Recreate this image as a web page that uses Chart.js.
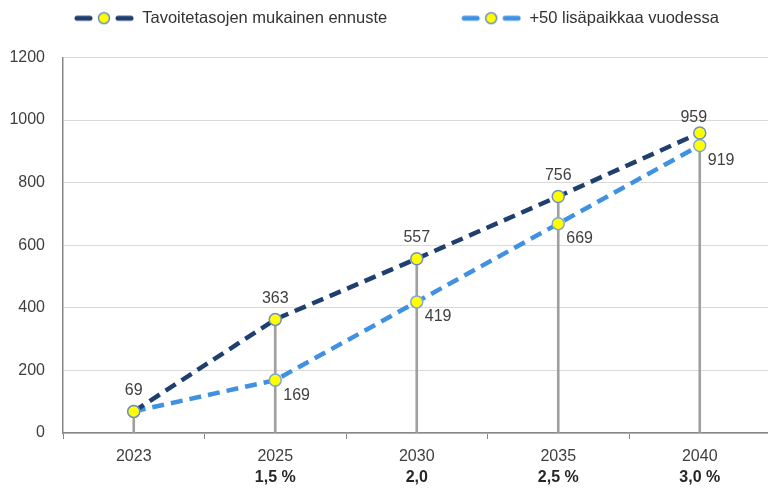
<!DOCTYPE html>
<html>
<head>
<meta charset="utf-8">
<script src="https://cdn.jsdelivr.net/npm/chart.js@4.4.0/dist/chart.umd.min.js"></script>
<style>
  html, body { margin: 0; padding: 0; background: #fff; overflow: hidden; }
  #wrap { width: 778px; height: 488px; }
</style>
</head>
<body>
<div id="wrap"><canvas id="line_chart" width="778" height="488"></canvas></div>
<script>
var years = ["2023", "2025", "2030", "2035", "2040"];
var rates = ["", "1,5 %", "2,0", "2,5 %", "3,0 %"];
var targetSeries = [69, 363, 557, 756, 959];
var extraSeries = [69, 169, 419, 669, 919];
var yTicks = [0, 200, 400, 600, 800, 1000, 1200];

var navy = '#1f3f6e';
var lightBlue = '#4191e3';
var fontFamily = "'Liberation Sans', Arial, sans-serif";

// legend symbol: dash - yellow dot - dash, drawn at the right end of a wider box
function legendIcon(color) {
    var c = document.createElement('canvas');
    c.width = 124; c.height = 16;
    var ctx = c.getContext('2d');
    var o = 64;
    ctx.strokeStyle = color;
    ctx.lineWidth = 5;
    ctx.lineCap = 'round';
    ctx.beginPath(); ctx.moveTo(o + 3, 8); ctx.lineTo(o + 16, 8); ctx.stroke();
    ctx.beginPath(); ctx.moveTo(o + 44, 8); ctx.lineTo(o + 57, 8); ctx.stroke();
    ctx.beginPath(); ctx.arc(o + 30, 8, 5.5, 0, Math.PI * 2);
    ctx.fillStyle = '#ffff00'; ctx.fill();
    ctx.lineWidth = 1.5; ctx.strokeStyle = '#6f8fc0'; ctx.stroke();
    return c;
}

var dropLines = targetSeries.map(function (v, i) { return Math.max(v, extraSeries[i]); });

var legendGap = {
    id: 'legendGap',
    beforeInit: function (chart) {
        var fit = chart.legend.fit;
        chart.legend.fit = function () {
            fit.bind(chart.legend)();
            this.height += 21;
        };
    }
};

var valueLabels = {
    id: 'valueLabels',
    afterDatasetsDraw: function (chart) {
        var ctx = chart.ctx;
        ctx.save();
        ctx.font = '16px ' + fontFamily;
        ctx.fillStyle = '#404040';
        ctx.textBaseline = 'middle';
        var m0 = chart.getDatasetMeta(0);
        var last = m0.data.length - 1;
        m0.data.forEach(function (pt, i) {
            ctx.textAlign = 'center';
            var dx = (i === last) ? -6 : 0;
            var dy = (i === last) ? -15 : -21;
            ctx.fillText(targetSeries[i], pt.x + dx, pt.y + dy);
        });
        var m1 = chart.getDatasetMeta(1);
        m1.data.forEach(function (pt, i) {
            if (extraSeries[i] === targetSeries[i]) return;
            ctx.textAlign = 'left';
            ctx.fillText(extraSeries[i], pt.x + 8, pt.y + 15);
        });
        ctx.restore();
    }
};

new Chart(document.getElementById("line_chart").getContext("2d"), {
    type: 'bar',
    data: {
        labels: years,
        datasets: [{
            type: 'line',
            label: 'Tavoitetasojen mukainen ennuste',
            data: targetSeries,
            borderColor: navy,
            borderWidth: 4.5,
            borderDash: [12, 7],
            pointRadius: 6,
            pointBackgroundColor: '#ffff00',
            pointBorderColor: '#6f8fc0',
            pointBorderWidth: 1.5,
            order: 1
        }, {
            type: 'line',
            label: '+50 lisäpaikkaa vuodessa',
            data: extraSeries,
            borderColor: lightBlue,
            borderWidth: 4.5,
            borderDash: [12, 7],
            pointRadius: 6,
            pointBackgroundColor: '#ffff00',
            pointBorderColor: '#7fa7d8',
            pointBorderWidth: 1.5,
            order: 2
        }, {
            type: 'bar',
            label: 'drop',
            data: dropLines,
            backgroundColor: '#a0a0a0',
            barThickness: 2,
            order: 3
        }]
    },
    options: {
        responsive: false,
        animation: false,
        layout: { padding: 0 },
        plugins: {
            tooltip: { enabled: false },
            legend: {
                position: 'top',
                align: 'start',
                labels: {
                    usePointStyle: true,
                    pointStyleWidth: 124,
                    padding: 10,
                    color: '#333',
                    font: { family: fontFamily, size: 16.5 },
                    filter: function (item) { return item.datasetIndex < 2; },
                    generateLabels: function (chart) {
                        var items = Chart.defaults.plugins.legend.labels.generateLabels(chart);
                        items.forEach(function (it) {
                            if (it.datasetIndex === 0) it.pointStyle = legendIcon(navy);
                            if (it.datasetIndex === 1) it.pointStyle = legendIcon(lightBlue);
                        });
                        return items;
                    }
                }
            }
        },
        scales: {
            x: {
                offset: true,
                afterFit: function (scale) { scale.height = 33; },
                grid: { offset: true, drawOnChartArea: false, tickLength: 6, color: '#888' },
                border: { color: '#888', width: 1.5 },
                ticks: { color: '#404040', font: { family: fontFamily, size: 16 }, padding: 8 }
            },
            x2: {
                type: 'category',
                position: 'bottom',
                labels: rates,
                offset: true,
                afterFit: function (scale) { scale.height = 22; },
                grid: { display: false, drawTicks: false },
                border: { display: false },
                ticks: { color: '#262626', font: { family: fontFamily, size: 16, weight: 'bold' }, padding: 2 }
            },
            y: {
                min: 0,
                max: 1200,
                afterBuildTicks: function (scale) {
                    scale.ticks = yTicks.map(function (v) { return { value: v }; });
                },
                afterFit: function (scale) { scale.width = 63; },
                grid: { color: '#d9d9d9', drawTicks: false },
                border: { color: '#888', width: 1.5 },
                ticks: {
                    color: '#404040',
                    font: { family: fontFamily, size: 16 },
                    padding: 18,
                    callback: function (v) { return String(v); }
                }
            }
        }
    },
    plugins: [legendGap, valueLabels]
});
</script>
</body>
</html>
